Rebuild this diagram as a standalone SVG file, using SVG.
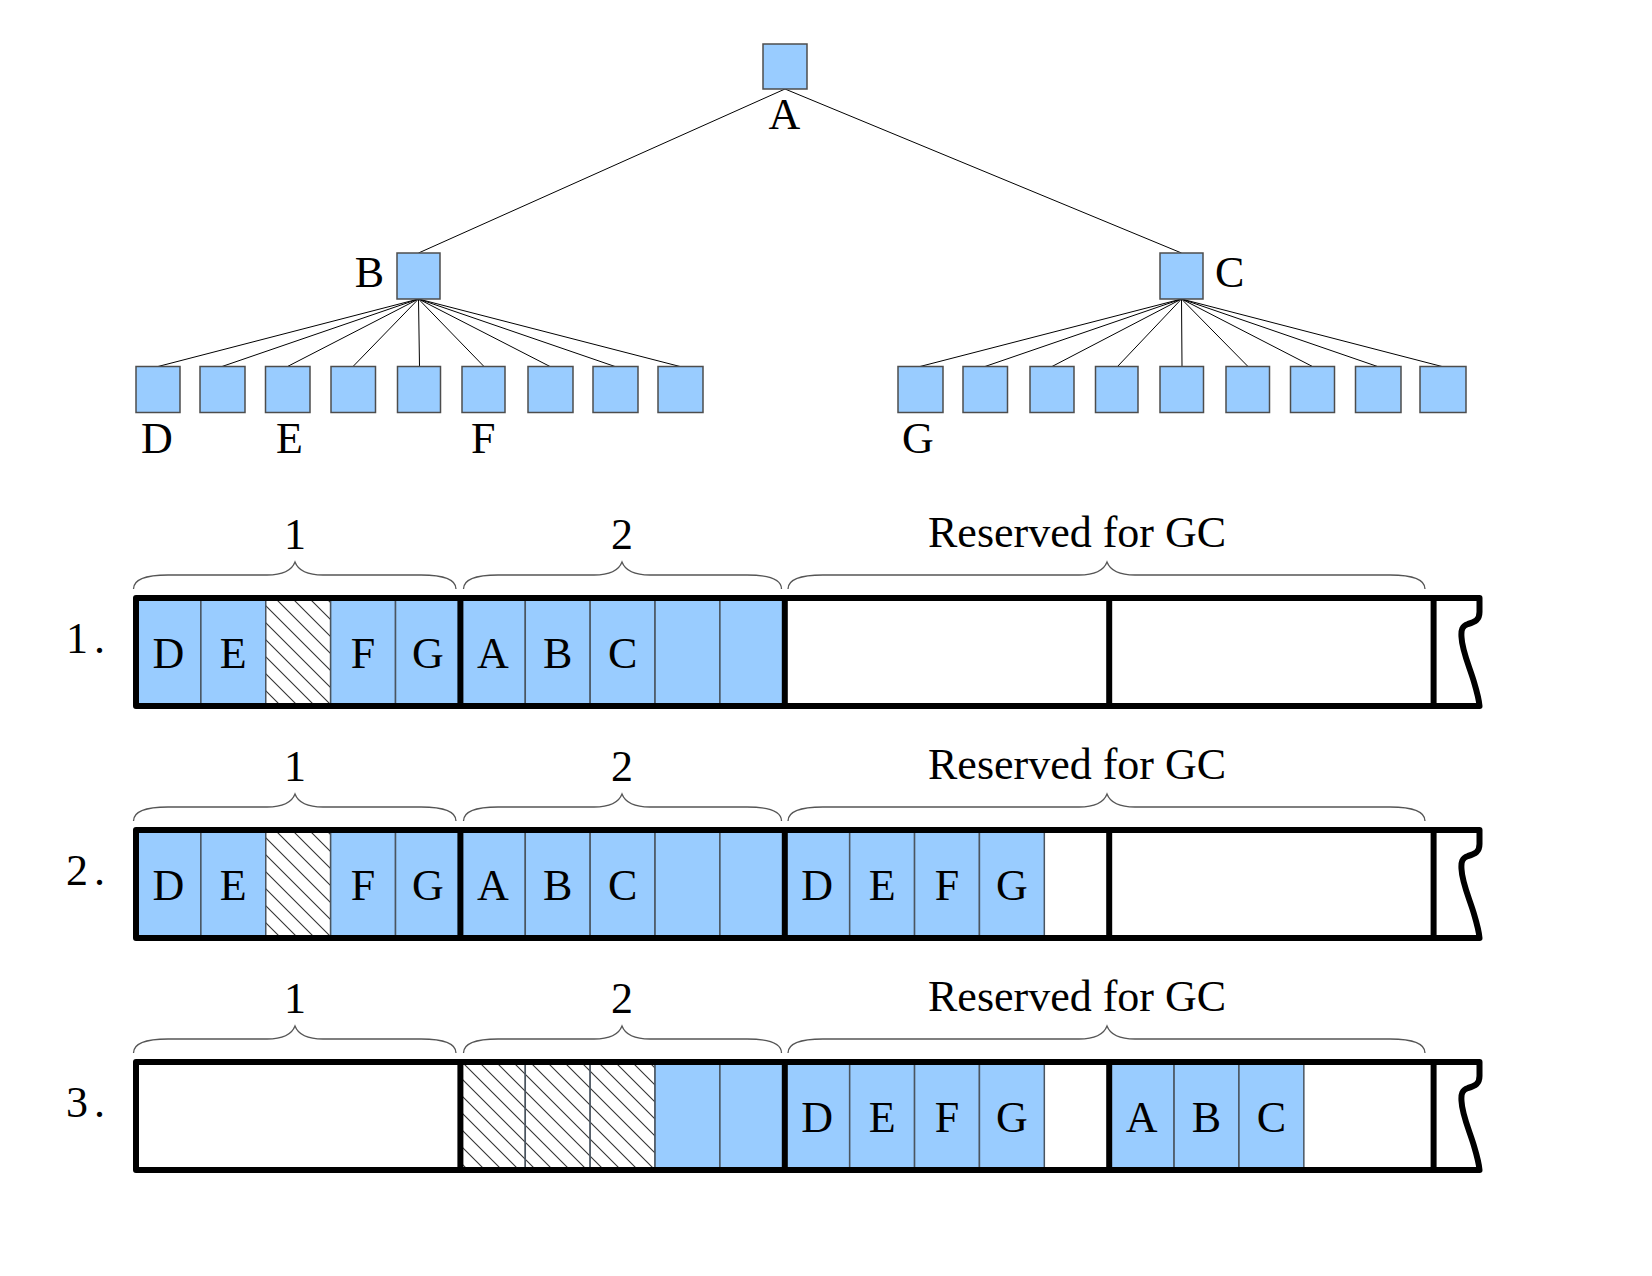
<svg xmlns="http://www.w3.org/2000/svg" width="1652" height="1276" viewBox="0 0 1652 1276">
<style>
.node{fill:#99ccff;stroke:#4d4d4d;stroke-width:1.5}
.edge{stroke:#000;stroke-width:1;fill:none}
.lbl{font-family:"Liberation Serif","Times New Roman",serif;font-size:44px;fill:#000}
.mid{text-anchor:middle}
.cell{fill:#99ccff;stroke:#4a5560;stroke-width:1.5}
.hcell{fill:url(#hatch);stroke:#4a5560;stroke-width:1.5}
.brace{fill:none;stroke:#555;stroke-width:1.3}
.outline{fill:none;stroke:#000;stroke-width:6;stroke-linejoin:round}
.div{stroke:#000;stroke-width:6}
</style>
<defs>
<pattern id="hatch" patternUnits="userSpaceOnUse" width="17" height="17">
<rect width="17" height="17" fill="#fff"/>
<path d="M0,0 L17,17 M-2,15 L2,19 M15,-2 L19,2" stroke="#333" stroke-width="1.1"/>
</pattern>
<g id="braces">
<path class="brace" d="M133.5,589 C133.5,580 145,575 168,575 L267,575 C283,575 292,570 295,562 C298,570 307,575 323,575 L421,575 C444,575 456,580 456,589"/>
<path class="brace" d="M463.5,589 C463.5,580 475,575 498,575 L594,575 C610,575 619,570 622,562 C625,570 634,575 650,575 L747,575 C770,575 781.5,580 781.5,589"/>
<path class="brace" d="M788,589 C788,580 800,575 823,575 L1079,575 C1095,575 1104,570 1107,562 C1110,570 1119,575 1135,575 L1390,575 C1413,575 1425,580 1425,589"/>
<text class="lbl mid" x="295" y="549">1</text>
<text class="lbl mid" x="622" y="549">2</text>
<text class="lbl" x="928" y="547">Reserved for GC</text>
</g>
<path id="frame" class="outline" d="M136,598 H1479.5 V612 C1479.5,620 1475,622 1468,624 C1462,626 1461,630 1461.5,637 C1462,651 1470,668 1474,682 C1477,692 1479,700 1479.5,706 H136 Z"/>
<g id="dividers">
<line class="div" x1="460.4" y1="598" x2="460.4" y2="706"/>
<line class="div" x1="784.8" y1="598" x2="784.8" y2="706"/>
<line class="div" x1="1109.2" y1="598" x2="1109.2" y2="706"/>
<line class="div" x1="1433.6" y1="598" x2="1433.6" y2="706"/>
</g>
</defs>
<rect width="1652" height="1276" fill="#fff"/>

<g id="connectors">
<line class="edge" x1="785" y1="89" x2="418.5" y2="253"/>
<line class="edge" x1="785" y1="89" x2="1181.5" y2="253"/>
<line class="edge" x1="418.5" y1="299" x2="158" y2="366.5"/>
<line class="edge" x1="418.5" y1="299" x2="222" y2="366.5"/>
<line class="edge" x1="418.5" y1="299" x2="287.5" y2="366.5"/>
<line class="edge" x1="418.5" y1="299" x2="353" y2="366.5"/>
<line class="edge" x1="418.5" y1="299" x2="419.5" y2="366.5"/>
<line class="edge" x1="418.5" y1="299" x2="484" y2="366.5"/>
<line class="edge" x1="418.5" y1="299" x2="550" y2="366.5"/>
<line class="edge" x1="418.5" y1="299" x2="615" y2="366.5"/>
<line class="edge" x1="418.5" y1="299" x2="680" y2="366.5"/>
<line class="edge" x1="1181.5" y1="299" x2="920" y2="366.5"/>
<line class="edge" x1="1181.5" y1="299" x2="985" y2="366.5"/>
<line class="edge" x1="1181.5" y1="299" x2="1052" y2="366.5"/>
<line class="edge" x1="1181.5" y1="299" x2="1117.5" y2="366.5"/>
<line class="edge" x1="1181.5" y1="299" x2="1182" y2="366.5"/>
<line class="edge" x1="1181.5" y1="299" x2="1248" y2="366.5"/>
<line class="edge" x1="1181.5" y1="299" x2="1312.5" y2="366.5"/>
<line class="edge" x1="1181.5" y1="299" x2="1377.5" y2="366.5"/>
<line class="edge" x1="1181.5" y1="299" x2="1442" y2="366.5"/>
</g>

<g id="node-A"><rect class="node" x="763" y="44" width="44" height="45"/><text class="lbl mid" x="784.5" y="129">A</text></g>
<g id="node-B"><rect class="node" x="397" y="253" width="43" height="46"/><text class="lbl" x="384" y="287" text-anchor="end">B</text></g>
<g id="node-C"><rect class="node" x="1160" y="253" width="43" height="46"/><text class="lbl" x="1215" y="287">C</text></g>

<g id="leaf-B1"><rect class="node" x="136" y="366.5" width="44" height="46"/><text class="lbl" x="141" y="453">D</text></g>
<g id="leaf-B2"><rect class="node" x="200" y="366.5" width="45" height="46"/></g>
<g id="leaf-B3"><rect class="node" x="265.5" y="366.5" width="44.5" height="46"/><text class="lbl" x="276" y="453">E</text></g>
<g id="leaf-B4"><rect class="node" x="331" y="366.5" width="44.5" height="46"/></g>
<g id="leaf-B5"><rect class="node" x="397.5" y="366.5" width="43" height="46"/></g>
<g id="leaf-B6"><rect class="node" x="462" y="366.5" width="43" height="46"/><text class="lbl" x="471" y="453">F</text></g>
<g id="leaf-B7"><rect class="node" x="528" y="366.5" width="45" height="46"/></g>
<g id="leaf-B8"><rect class="node" x="593" y="366.5" width="45" height="46"/></g>
<g id="leaf-B9"><rect class="node" x="658" y="366.5" width="45" height="46"/></g>

<g id="leaf-C1"><rect class="node" x="898" y="366.5" width="45" height="46"/><text class="lbl" x="902" y="453">G</text></g>
<g id="leaf-C2"><rect class="node" x="963" y="366.5" width="44.5" height="46"/></g>
<g id="leaf-C3"><rect class="node" x="1030" y="366.5" width="44" height="46"/></g>
<g id="leaf-C4"><rect class="node" x="1095.5" y="366.5" width="42.5" height="46"/></g>
<g id="leaf-C5"><rect class="node" x="1160" y="366.5" width="43.5" height="46"/></g>
<g id="leaf-C6"><rect class="node" x="1226" y="366.5" width="43.5" height="46"/></g>
<g id="leaf-C7"><rect class="node" x="1290.5" y="366.5" width="44" height="46"/></g>
<g id="leaf-C8"><rect class="node" x="1355.5" y="366.5" width="45.5" height="46"/></g>
<g id="leaf-C9"><rect class="node" x="1420" y="366.5" width="46" height="46"/></g>

<!-- Row 1 -->
<g id="row-1">
<use href="#braces"/>
<text class="lbl" x="66" y="653" letter-spacing="6">1.</text>
<rect x="136" y="598" width="1343" height="108" fill="#fff"/>
<rect class="cell" x="136" y="598" width="64.88" height="108"/>
<rect class="cell" x="200.88" y="598" width="64.88" height="108"/>
<rect class="hcell" x="265.76" y="598" width="64.88" height="108"/>
<rect class="cell" x="330.64" y="598" width="64.88" height="108"/>
<rect class="cell" x="395.52" y="598" width="64.88" height="108"/>
<rect class="cell" x="460.4" y="598" width="64.88" height="108"/>
<rect class="cell" x="525.28" y="598" width="64.88" height="108"/>
<rect class="cell" x="590.16" y="598" width="64.88" height="108"/>
<rect class="cell" x="655.04" y="598" width="64.88" height="108"/>
<rect class="cell" x="719.92" y="598" width="64.88" height="108"/>
<text class="lbl mid" x="168.4" y="668">D</text>
<text class="lbl mid" x="233.3" y="668">E</text>
<text class="lbl mid" x="363.1" y="668">F</text>
<text class="lbl mid" x="428" y="668">G</text>
<text class="lbl mid" x="492.8" y="668">A</text>
<text class="lbl mid" x="557.7" y="668">B</text>
<text class="lbl mid" x="622.6" y="668">C</text>
<use href="#dividers"/>
<use href="#frame"/>
</g>

<!-- Row 2 -->
<g id="row-2" transform="translate(0,232)">
<use href="#braces"/>
<text class="lbl" x="66" y="653" letter-spacing="6">2.</text>
<rect x="136" y="598" width="1343" height="108" fill="#fff"/>
<rect class="cell" x="136" y="598" width="64.88" height="108"/>
<rect class="cell" x="200.88" y="598" width="64.88" height="108"/>
<rect class="hcell" x="265.76" y="598" width="64.88" height="108"/>
<rect class="cell" x="330.64" y="598" width="64.88" height="108"/>
<rect class="cell" x="395.52" y="598" width="64.88" height="108"/>
<rect class="cell" x="460.4" y="598" width="64.88" height="108"/>
<rect class="cell" x="525.28" y="598" width="64.88" height="108"/>
<rect class="cell" x="590.16" y="598" width="64.88" height="108"/>
<rect class="cell" x="655.04" y="598" width="64.88" height="108"/>
<rect class="cell" x="719.92" y="598" width="64.88" height="108"/>
<rect class="cell" x="784.8" y="598" width="64.88" height="108"/>
<rect class="cell" x="849.68" y="598" width="64.88" height="108"/>
<rect class="cell" x="914.56" y="598" width="64.88" height="108"/>
<rect class="cell" x="979.44" y="598" width="64.88" height="108"/>
<text class="lbl mid" x="168.4" y="668">D</text>
<text class="lbl mid" x="233.3" y="668">E</text>
<text class="lbl mid" x="363.1" y="668">F</text>
<text class="lbl mid" x="428" y="668">G</text>
<text class="lbl mid" x="492.8" y="668">A</text>
<text class="lbl mid" x="557.7" y="668">B</text>
<text class="lbl mid" x="622.6" y="668">C</text>
<text class="lbl mid" x="817.2" y="668">D</text>
<text class="lbl mid" x="882.1" y="668">E</text>
<text class="lbl mid" x="947" y="668">F</text>
<text class="lbl mid" x="1011.9" y="668">G</text>
<use href="#dividers"/>
<use href="#frame"/>
</g>

<!-- Row 3 -->
<g id="row-3" transform="translate(0,464)">
<use href="#braces"/>
<text class="lbl" x="66" y="653" letter-spacing="6">3.</text>
<rect x="136" y="598" width="1343" height="108" fill="#fff"/>
<rect class="hcell" x="460.4" y="598" width="64.88" height="108"/>
<rect class="hcell" x="525.28" y="598" width="64.88" height="108"/>
<rect class="hcell" x="590.16" y="598" width="64.88" height="108"/>
<rect class="cell" x="655.04" y="598" width="64.88" height="108"/>
<rect class="cell" x="719.92" y="598" width="64.88" height="108"/>
<rect class="cell" x="784.8" y="598" width="64.88" height="108"/>
<rect class="cell" x="849.68" y="598" width="64.88" height="108"/>
<rect class="cell" x="914.56" y="598" width="64.88" height="108"/>
<rect class="cell" x="979.44" y="598" width="64.88" height="108"/>
<rect class="cell" x="1109.2" y="598" width="64.88" height="108"/>
<rect class="cell" x="1174.08" y="598" width="64.88" height="108"/>
<rect class="cell" x="1238.96" y="598" width="64.88" height="108"/>
<text class="lbl mid" x="817.2" y="668">D</text>
<text class="lbl mid" x="882.1" y="668">E</text>
<text class="lbl mid" x="947" y="668">F</text>
<text class="lbl mid" x="1011.9" y="668">G</text>
<text class="lbl mid" x="1141.6" y="668">A</text>
<text class="lbl mid" x="1206.5" y="668">B</text>
<text class="lbl mid" x="1271.4" y="668">C</text>
<use href="#dividers"/>
<use href="#frame"/>
</g>
</svg>
